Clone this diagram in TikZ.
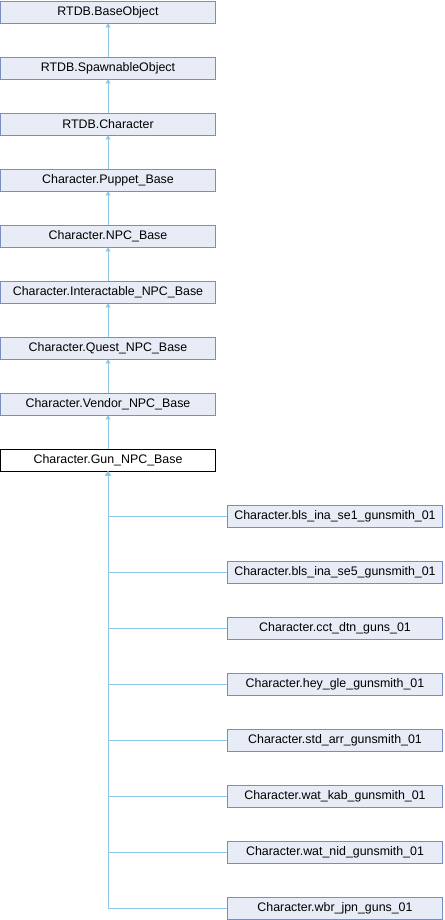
\documentclass[tikz,border=0pt]{standalone}
\usepackage{fontspec}
\setmainfont{Liberation Sans}
\usetikzlibrary{arrows.meta}
\definecolor{boxfill}{HTML}{E8ECF6}
\definecolor{boxline}{HTML}{7A8DC2}
\definecolor{edge}{HTML}{8CC8EA}
\tikzset{
  cls/.style={draw=boxline, fill=boxfill, line width=0.8pt, minimum width=215pt, minimum height=22pt, inner sep=0pt, font=\fontsize{12.4}{13}\selectfont},
  cur/.style={cls, draw=black, fill=white},
  inh/.style={draw=edge, line width=0.9pt, -{Triangle[open,length=4pt,width=5pt,fill=edge]}},
}
\begin{document}
\begin{tikzpicture}[x=1pt,y=-1pt]
\useasboundingbox (0,0) rectangle (444,920);
\node[cls] (n0) at (108,12) {RTDB.BaseObject};
\node[cls] (n1) at (108,68) {RTDB.SpawnableObject};
\node[cls] (n2) at (108,124) {RTDB.Character};
\node[cls] (n3) at (108,180) {Character.Puppet\_Base};
\node[cls] (n4) at (108,236) {Character.NPC\_Base};
\node[cls] (n5) at (108,292) {Character.Interactable\_NPC\_Base};
\node[cls] (n6) at (108,348) {Character.Quest\_NPC\_Base};
\node[cls] (n7) at (108,404) {Character.Vendor\_NPC\_Base};
\node[cur] (n8) at (108,460) {Character.Gun\_NPC\_Base};
\draw[inh] (n1) -- (n0);
\draw[inh] (n2) -- (n1);
\draw[inh] (n3) -- (n2);
\draw[inh] (n4) -- (n3);
\draw[inh] (n5) -- (n4);
\draw[inh] (n6) -- (n5);
\draw[inh] (n7) -- (n6);
\draw[inh] (n8) -- (n7);
\node[cls] (c1) at (335,516) {Character.bls\_ina\_se1\_gunsmith\_01};
\node[cls] (c2) at (335,572) {Character.bls\_ina\_se5\_gunsmith\_01};
\node[cls] (c3) at (335,628) {Character.cct\_dtn\_guns\_01};
\node[cls] (c4) at (335,684) {Character.hey\_gle\_gunsmith\_01};
\node[cls] (c5) at (335,740) {Character.std\_arr\_gunsmith\_01};
\node[cls] (c6) at (335,796) {Character.wat\_kab\_gunsmith\_01};
\node[cls] (c7) at (335,852) {Character.wat\_nid\_gunsmith\_01};
\node[cls] (c8) at (335,908) {Character.wbr\_jpn\_guns\_01};
\foreach \i in {1,...,8} {
  \draw[inh] (c\i.west) -| (n8.south);
}
\end{tikzpicture}
\end{document}
